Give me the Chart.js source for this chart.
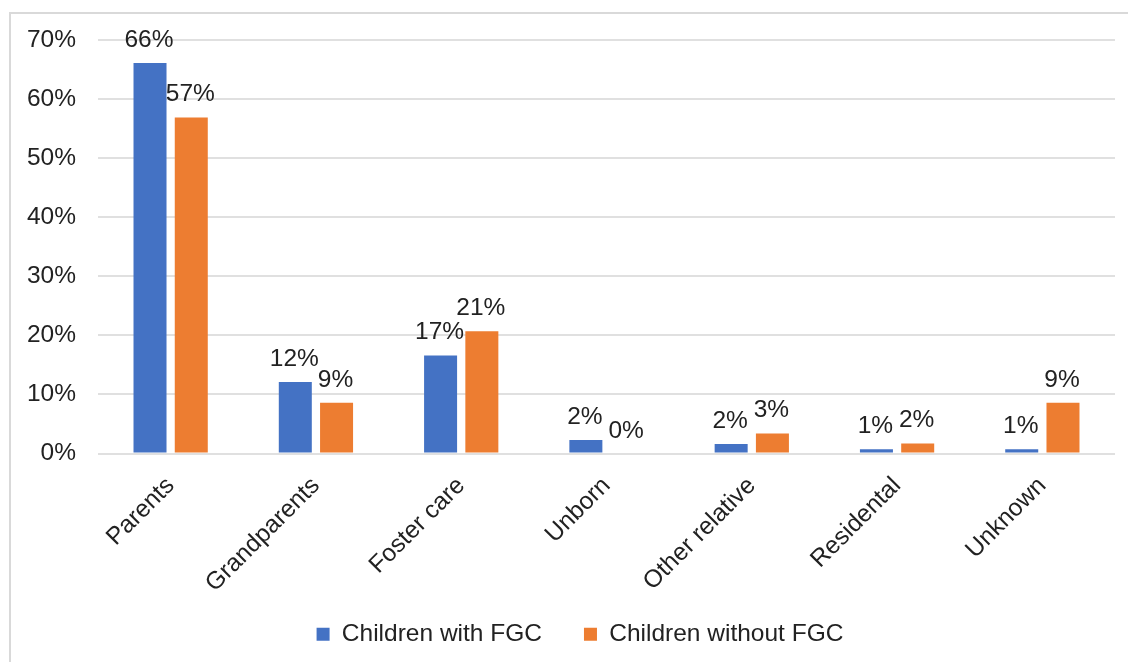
<!DOCTYPE html>
<html>
<head>
<meta charset="utf-8">
<title>Children with and without FGC</title>
<script src="https://cdn.jsdelivr.net/npm/chart.js@4"></script>
<style>
    html, body { margin: 0; padding: 0; background: #fff; overflow: hidden; }
    #frame {
        position: absolute; left: 9px; top: 12px;
        width: 1200px; height: 700px;
        border-top: 2px solid #d9d9d9; border-left: 2px solid #d9d9d9;
    }
    #chart { position: absolute; left: 0; top: 0; }
</style>
</head>
<body>
<div id="frame"></div>
<canvas id="chart" width="1128" height="662"></canvas>
<script>
// dados (percentagens)
const categories = ['Parents', 'Grandparents', 'Foster care', 'Unborn', 'Other relative', 'Residental', 'Unknown'];
const withFGC = [66.1, 12.1, 16.6, 2.3, 1.6, 0.7, 0.7];
const withoutFGC = [56.9, 8.6, 20.7, 0, 3.4, 1.7, 8.6];
const yTicks = [0, 10, 20, 30, 40, 50, 60, 70];

const FONT = "'Liberation Sans', Arial, sans-serif";
const SIZE = 24.5;
const TEXT = '#222222';

// rótulos de valor acima das barras
const valueLabels = {
    id: 'valueLabels',
    afterDatasetsDraw(chart) {
        const ctx = chart.ctx;
        ctx.save();
        ctx.font = SIZE + 'px ' + FONT;
        ctx.fillStyle = TEXT;
        ctx.textAlign = 'center';
        ctx.textBaseline = 'alphabetic';
        chart.data.datasets.forEach((ds, i) => {
            chart.getDatasetMeta(i).data.forEach((bar, j) => {
                ctx.fillText(Math.round(ds.data[j]) + '%', bar.x - 1, bar.y - 16);
            });
        });
        ctx.restore();
    }
};

// deixa os rótulos dos eixos sair da caixa da escala (sem corte)
const noTickClip = {
    id: 'noTickClip',
    afterLayout(chart) {
        chart.scales.y.left = 0;
        chart.scales.x.bottom = chart.height;
    }
};

new Chart(document.getElementById('chart'), {
    type: 'bar',
    data: {
        labels: categories,
        datasets: [
            { label: 'Children with FGC', data: withFGC, backgroundColor: '#4472C4' },
            { label: 'Children without FGC', data: withoutFGC, backgroundColor: '#ED7D31' }
        ]
    },
    options: {
        responsive: false,
        animation: false,
        categoryPercentage: 0.568,
        barPercentage: 0.8,
        layout: { padding: { left: 45, right: 13, top: 40, bottom: 5.6 } },
        scales: {
            x: {
                grid: { display: false, drawTicks: false },
                border: { display: false },
                ticks: {
                    color: TEXT,
                    font: { family: FONT, size: SIZE },
                    minRotation: 45,
                    maxRotation: 45,
                    padding: 18
                },
                afterFit(scale) { scale.height = 126.4; }
            },
            y: {
                min: 0,
                max: 70,
                grid: { color: '#e0e0e0', lineWidth: 2, drawTicks: false },
                border: { display: false },
                afterBuildTicks(scale) { scale.ticks = yTicks.map(v => ({ value: v })); },
                ticks: {
                    color: TEXT,
                    font: { family: FONT, size: SIZE },
                    padding: 22,
                    callback: v => v + '%'
                },
                afterFit(scale) { scale.width = 53; }
            }
        },
        plugins: {
            legend: {
                position: 'bottom',
                labels: {
                    color: TEXT,
                    font: { family: FONT, size: SIZE },
                    boxWidth: 13,
                    boxHeight: 13,
                    padding: 42
                }
            },
            tooltip: { enabled: false }
        }
    },
    plugins: [valueLabels, noTickClip]
});
</script>
</body>
</html>
